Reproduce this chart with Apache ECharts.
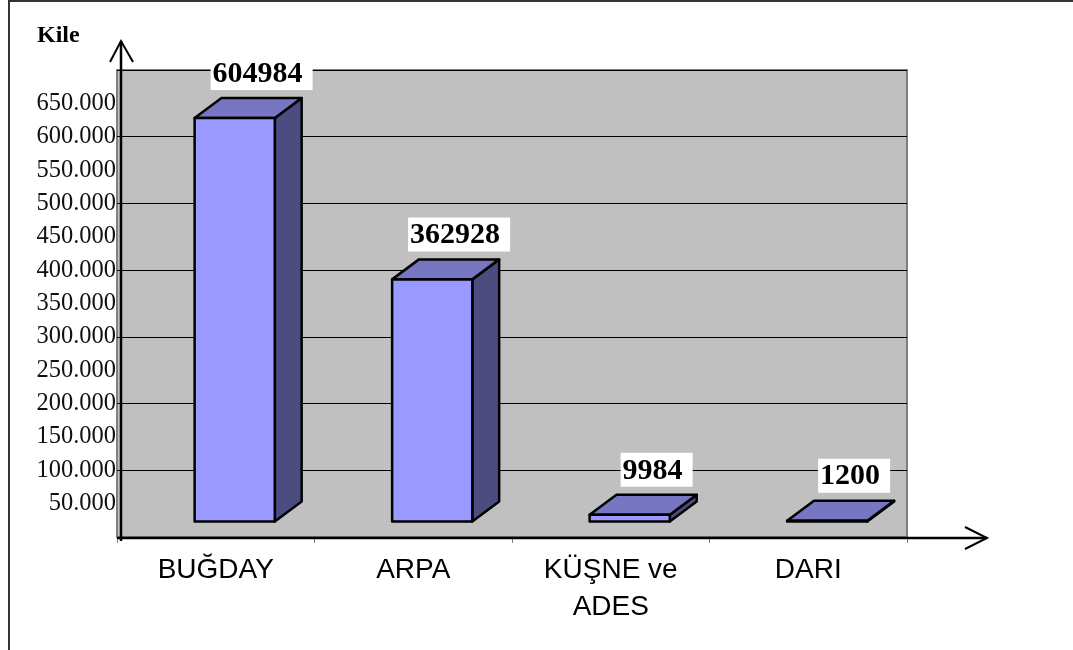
<!DOCTYPE html>
<html>
<head>
<meta charset="utf-8">
<script src="https://cdn.jsdelivr.net/npm/echarts@6/dist/echarts.min.js"></script>
<style>
html,body{margin:0;padding:0;background:#fff;}
#chart{width:1073px;height:650px;}
</style>
</head>
<body>
<div id="chart"></div>
<script>
// ---- data ----
const categories = ['BUĞDAY', 'ARPA', 'KÜŞNE ve\nADES', 'DARI'];
const values = [604984, 362928, 9984, 1200];
const yAxisName = 'Kile';
const yMin = 0, yMax = 700000, labelStep = 50000, gridStep = 100000;

function fmtTick(v) {
  if (v === yMin || v === yMax) return '';
  return (v / 1000) + '.000';
}

const chart = echarts.init(document.getElementById('chart'), null, { renderer: 'canvas' });

const seriesData = values.map((v, i) => [i, v]);

function renderBar(params, api) {
  const idx = api.value(0);
  const v = api.value(1);
  const base = api.coord([idx, 0]);
  const topPt = api.coord([idx, v]);
  const bw = api.size([1, 0])[0];
  const W = bw * 0.406;
  const dx = bw * 0.136;
  const dy = 20;
  const lift = 15.5;
  const x0 = base[0] - bw * 0.107;
  const x1 = x0 + W;
  const yb = base[1] - lift;
  let yt = topPt[1] - lift;
  if (yb - yt < 0.8) yt = yb - 0.8;
  const stroke = { stroke: '#000', lineWidth: 2.5, lineJoin: 'round' };
  const front = { type: 'polygon', shape: { points: [[x0, yb], [x1, yb], [x1, yt], [x0, yt]] }, style: Object.assign({ fill: '#9999FF' }, stroke) };
  const top = { type: 'polygon', shape: { points: [[x0, yt], [x1, yt], [x1 + dx, yt - dy], [x0 + dx, yt - dy]] }, style: Object.assign({ fill: '#7676C2' }, stroke) };
  const side = { type: 'polygon', shape: { points: [[x1, yb], [x1 + dx, yb - dy], [x1 + dx, yt - dy], [x1, yt]] }, style: Object.assign({ fill: '#4C4C80' }, stroke) };
  const label = {
    type: 'text',
    z2: 10,
    style: {
      text: String(v),
      x: x0 + 67,
      y: yt - dy - 8,
      align: 'center',
      verticalAlign: 'bottom',
      font: 'bold 30px "Liberation Serif", "Times New Roman", serif',
      fill: '#000',
      backgroundColor: '#fff',
      padding: [2, 10, 0, 2],
      lineHeight: 32
    }
  };
  return { type: 'group', children: [side, top, front, label] };
}

const option = {
  animation: false,
  backgroundColor: '#fff',
  grid: {
    left: 117, right: 166, top: 70, bottom: 113,
    show: true, backgroundColor: '#C0C0C0', borderColor: '#808080', borderWidth: 2,
    containLabel: false
  },
  xAxis: {
    type: 'category',
    data: categories,
    boundaryGap: true,
    axisLine: { show: false },
    axisTick: { show: true, length: 6, lineStyle: { color: '#808080', width: 1 } },
    axisLabel: {
      margin: 15,
      fontFamily: '"Liberation Sans", Arial, sans-serif',
      fontSize: 28,
      lineHeight: 37,
      color: '#000',
      interval: 0
    },
    splitLine: { show: false }
  },
  yAxis: [
    {
      type: 'value', min: yMin, max: yMax, interval: gridStep,
      axisLine: { show: false }, axisTick: { show: false },
      axisLabel: { show: false },
      splitLine: { show: true, lineStyle: { color: '#000', width: 1 } }
    },
    {
      type: 'value', min: yMin, max: yMax, interval: labelStep, position: 'left',
      axisLine: { show: false }, axisTick: { show: false },
      splitLine: { show: false },
      axisLabel: {
        formatter: fmtTick,
        margin: 1,
        fontFamily: '"Liberation Serif", "Times New Roman", serif',
        fontSize: 24.5,
        color: '#111'
      }
    }
  ],
  graphic: [
    // outer frame (top and left)
    { type: 'line', shape: { x1: 9, y1: 1, x2: 1073, y2: 1 }, style: { stroke: '#333', lineWidth: 2 } },
    { type: 'line', shape: { x1: 9, y1: 0, x2: 9, y2: 650 }, style: { stroke: '#333', lineWidth: 2 } },
    // y axis arrow
    { type: 'polyline', z: 100, shape: { points: [[121, 541], [121, 41]] }, style: { stroke: '#000', lineWidth: 2.5, fill: null } },
    { type: 'polyline', z: 100, shape: { points: [[110, 62], [121, 41], [133, 62]] }, style: { stroke: '#000', lineWidth: 2, fill: null } },
    // x axis arrow
    { type: 'polyline', z: 100, shape: { points: [[117, 538], [987, 538]] }, style: { stroke: '#000', lineWidth: 2.5, fill: null } },
    { type: 'polyline', z: 100, shape: { points: [[965, 527], [987, 538], [965, 549]] }, style: { stroke: '#000', lineWidth: 2, fill: null } },
    // y axis name
    { type: 'text', style: { text: yAxisName, x: 37, y: 48, verticalAlign: 'bottom', font: 'bold 24px "Liberation Serif", "Times New Roman", serif', fill: '#000' } }
  ],
  series: [
    {
      type: 'custom',
      renderItem: renderBar,
      data: seriesData,
      encode: { x: 0, y: 1 },
      clip: false,
      z: 5
    }
  ]
};
chart.setOption(option);
</script>
</body>
</html>
